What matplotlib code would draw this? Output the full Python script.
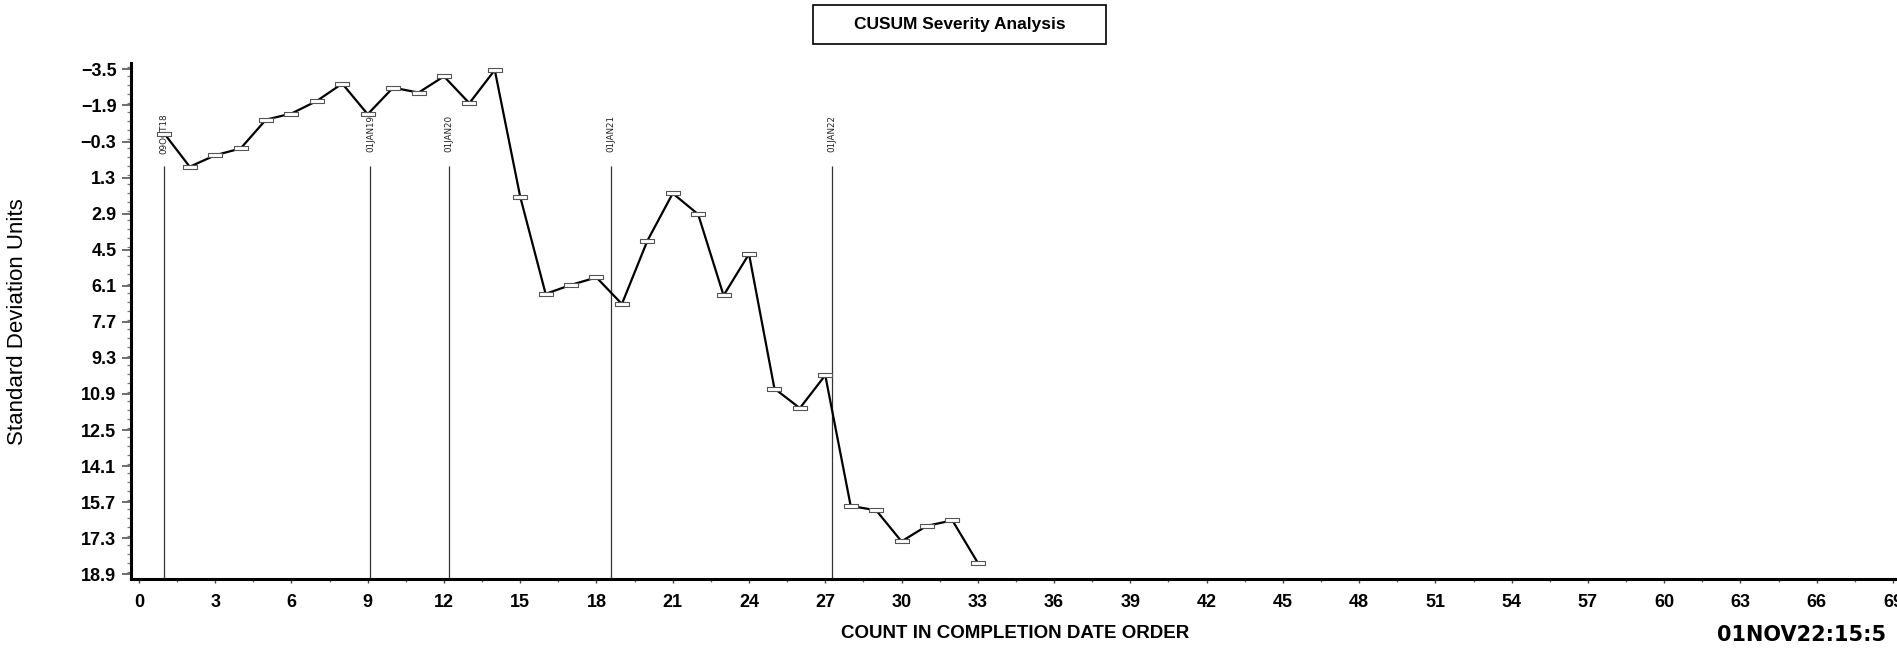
import matplotlib
matplotlib.use("Agg")
import matplotlib.pyplot as plt
from matplotlib.patches import Rectangle
from matplotlib.ticker import FixedLocator, MultipleLocator
import matplotlib.transforms as mtransforms

# ---------------- data ----------------
counts = list(range(1, 34))
cusum = [-0.65, 0.82, 0.31, 0.01, -1.27, -1.54, -2.10, -2.87, -1.51, -2.69,
         -2.47, -3.19, -2.00, -3.47, 2.15, 6.46, 6.06, 5.73, 6.91, 4.11,
         2.00, 2.93, 6.53, 4.69, 10.66, 11.53, 10.07, 15.87, 16.06, 17.44,
         16.75, 16.51, 18.39]

ref_x = [1.0, 9.11, 12.19, 18.57, 27.25]
ref_labels = ["09OCT18", "01JAN19", "01JAN20", "01JAN21", "01JAN22"]

y_ticks = [-3.5, -1.9, -0.3, 1.3, 2.9, 4.5, 6.1, 7.7, 9.3, 10.9, 12.5,
           14.1, 15.7, 17.3, 18.9]
x_ticks = list(range(0, 70, 3))

title = "CUSUM Severity Analysis"
x_title = "COUNT IN COMPLETION DATE ORDER"
y_title = "Standard Deviation Units"
stamp = "01NOV22:15:5"

# ---------------- figure ----------------
W, H = 1897, 649
fig = plt.figure(figsize=(W / 100, H / 100), dpi=100)
fig.patch.set_facecolor("white")

ax_left_px, ax_right_px = 131.0, 1918.4
ax_top_px, ax_bot_px = 63.3, 579.0
ax = fig.add_axes([ax_left_px / W, 1 - ax_bot_px / H,
                   (ax_right_px - ax_left_px) / W, (ax_bot_px - ax_top_px) / H])
ax.set_xlim(-0.31, 70)
ax.set_ylim(19.11, -3.77)

for s in ("top", "right"):
    ax.spines[s].set_visible(False)
for s in ("left", "bottom"):
    ax.spines[s].set_linewidth(2.2)
    ax.spines[s].set_color("black")

# reference lines + labels
trans = mtransforms.blended_transform_factory(ax.transData, ax.transAxes)
for xv, lab in zip(ref_x, ref_labels):
    ax.plot([xv, xv], [0, 0.801], transform=trans, color="#333333",
            lw=0.9, zorder=1, solid_capstyle="butt")
    ax.text(xv, 0.864, lab, transform=trans, rotation=90, ha="center",
            va="center", fontsize=6.3, family="DejaVu Sans", color="#222222")

# data line with rectangle markers
rect = [(-1, -0.28), (1, -0.28), (1, 0.28), (-1, 0.28), (-1, -0.28)]
ax.plot(counts, cusum, color="black", lw=1.6, zorder=3)
ax.plot(counts, cusum, linestyle="none", marker=rect, markersize=10,
        markerfacecolor="white", markeredgecolor="#555555",
        markeredgewidth=0.8, zorder=4)

# ticks
ax.yaxis.set_major_locator(FixedLocator(y_ticks))
ax.set_yticklabels([f"{v:.1f}".replace("-", "\u2212") for v in y_ticks])
ax.yaxis.set_minor_locator(MultipleLocator(0.4))
ax.xaxis.set_major_locator(FixedLocator(x_ticks))
ax.set_xticklabels([str(v) for v in x_ticks])
ax.xaxis.set_minor_locator(MultipleLocator(1.5))

ax.tick_params(axis="y", which="major", direction="out", length=6.5,
               width=1.2, color="#555555", pad=4)
ax.tick_params(axis="y", which="minor", direction="out", length=3,
               width=0.9, color="#777777")
ax.tick_params(axis="x", which="major", direction="out", length=3,
               width=1.0, color="#444444", pad=8)
ax.tick_params(axis="x", which="minor", direction="out", length=2.5,
               width=0.9, color="#666666")
for lab in ax.get_yticklabels() + ax.get_xticklabels():
    lab.set_fontfamily("Liberation Sans")
    lab.set_fontweight("bold")
    lab.set_fontsize(13)

# title box
fig.text(959.5 / W, 1 - 24.5 / H, title, ha="center", va="center",
         fontsize=12.5, family="Liberation Sans", fontweight="bold")
fig.patches.append(Rectangle((813 / W, 1 - 44 / H), (1106 - 813) / W,
                             (44 - 5) / H, transform=fig.transFigure,
                             fill=False, edgecolor="black", lw=1.2))

# axis titles
fig.text(1015 / W, 1 - 633 / H, x_title, ha="center", va="center",
         fontsize=13.5, family="Liberation Sans", fontweight="bold")
fig.text(18 / W, 1 - 322 / H, y_title, ha="center", va="center",
         rotation=90, fontsize=16, family="Liberation Sans")
fig.text(1717 / W, 1 - 635 / H, stamp, ha="left", va="center",
         fontsize=15, family="DejaVu Sans", fontweight="bold")

fig.savefig("out.png", dpi=100, facecolor="white")
